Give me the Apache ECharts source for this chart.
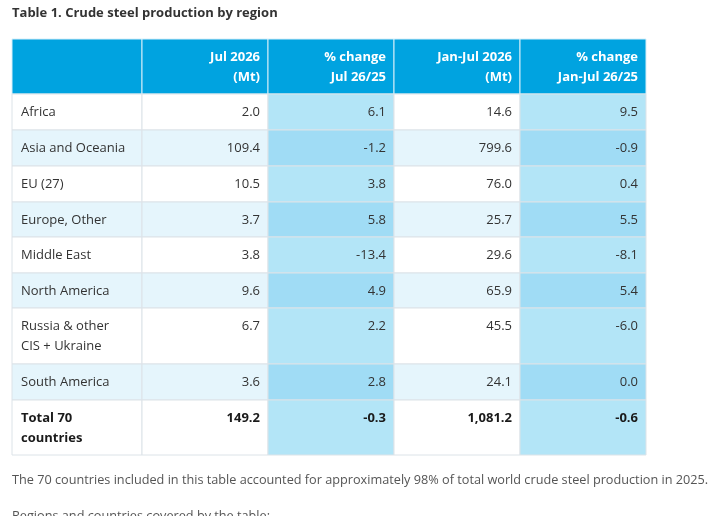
<!DOCTYPE html>
<html lang="en">
    <head>
        <meta charset="utf-8">
        <title>Crude steel production by region</title>
        <script src="https://cdn.jsdelivr.net/npm/echarts@6.0.0/dist/echarts.min.js"></script>
        <style>
            html, body { margin: 0; padding: 0; background: #fff; }
        </style>
    </head>
    <body>
        <div id="main" style="width: 721px;height: 516px;"></div>

        <script type="text/javascript">

            // table data
            let headers = ['', 'Jul 2026\n(Mt)', '% change\nJul 26/25', 'Jan-Jul 2026\n(Mt)', '% change\nJan-Jul 26/25'];
            let regions = ['Africa', 'Asia and Oceania', 'EU (27)', 'Europe, Other', 'Middle East',
                'North America', 'Russia & other\nCIS + Ukraine', 'South America', 'Total 70\ncountries'];
            let julMt = [2.0, 109.4, 10.5, 3.7, 3.8, 9.6, 6.7, 3.6, 149.2];
            let julChange = [6.1, -1.2, 3.8, 5.8, -13.4, 4.9, 2.2, 2.8, -0.3];
            let ytdMt = [14.6, 799.6, 76.0, 25.7, 29.6, 65.9, 45.5, 24.1, 1081.2];
            let ytdChange = [9.5, -0.9, 0.4, 5.5, -8.1, 5.4, -6.0, 0.0, -0.6];

            // layout (axis units = px)
            let colWidths = [130, 126, 126, 126, 126];
            let rowHeights = [55, 36, 36, 36, 35, 36, 35, 56, 36, 55];

            let colEdges = [0];
            colWidths.forEach(w => colEdges.push(colEdges[colEdges.length - 1] + w));
            let rowEdges = [0];
            rowHeights.forEach(h => rowEdges.push(rowEdges[rowEdges.length - 1] + h));

            let fmt = v => v.toLocaleString('en-US', {minimumFractionDigits: 1, maximumFractionDigits: 1});

            let columns = [regions, julMt, julChange, ytdMt, ytdChange];
            let cells = [];
            headers.forEach((h, c) => cells.push({value: [c, 0], text: h}));
            regions.forEach((r, i) => {
                columns.forEach((col, c) => {
                    cells.push({value: [c, i + 1], text: c === 0 ? col[i] : fmt(col[i])});
                });
            });

            let lastRow = regions.length;

            function cellFill(c, r) {
                if (r === 0) return '#00a3e0';
                let shaded = r % 2 === 0;
                if (c === 2 || c === 4) return shaded ? '#a0dcf5' : '#b3e5f7';
                return shaded ? '#e5f5fc' : '#ffffff';
            }

            function renderCell(params, api) {
                let c = api.value(0);
                let r = api.value(1);
                let p0 = api.coord([colEdges[c], rowEdges[r]]);
                let p1 = api.coord([colEdges[c + 1], rowEdges[r + 1]]);
                let item = cells[params.dataIndex];
                let isHead = r === 0;
                let isTotal = r === lastRow;
                let left = c === 0;
                return {
                    type: 'group',
                    children: [{
                        type: 'rect',
                        shape: {x: p0[0], y: p0[1], width: p1[0] - p0[0], height: p1[1] - p0[1]},
                        style: {
                            fill: cellFill(c, r),
                            stroke: isHead ? '#d6eef9' : '#dce3e8',
                            lineWidth: 1
                        }
                    }, {
                        type: 'text',
                        style: {
                            text: item.text,
                            x: left ? p0[0] + 9 : p1[0] - 8,
                            y: p0[1] + 8,
                            align: left ? 'left' : 'right',
                            verticalAlign: 'top',
                            fontFamily: 'Open Sans',
                            fontSize: 13,
                            lineHeight: 20,
                            fontWeight: (isHead || isTotal) ? 'bold' : 'normal',
                            fill: isHead ? '#ffffff' : (isTotal ? '#1a1a1a' : '#333333')
                        }
                    }]
                };
            }

            let myChart = echarts.init(document.getElementById('main'));

            let options = {
                animation: false,
                title: [{
                    text: 'Table 1. Crude steel production by region',
                    left: 12, top: 4, padding: 0,
                    textStyle: {fontFamily: 'Open Sans', fontSize: 13, fontWeight: 'bold', color: '#333333', lineHeight: 18}
                }, {
                    text: 'The 70 countries included in this table accounted for approximately 98% of total world crude steel production in 2025.',
                    left: 12, top: 471, padding: 0,
                    textStyle: {fontFamily: 'Open Sans', fontSize: 12.7, fontWeight: 'normal', color: '#555555', lineHeight: 18}
                }, {
                    text: 'Regions and countries covered by the table:',
                    left: 12, top: 507, padding: 0,
                    textStyle: {fontFamily: 'Open Sans', fontSize: 12.7, fontWeight: 'normal', color: '#555555', lineHeight: 18}
                }],
                grid: {left: 12, top: 39, width: colEdges[colEdges.length - 1], height: rowEdges[rowEdges.length - 1]},
                xAxis: {type: 'value', min: 0, max: colEdges[colEdges.length - 1], show: false},
                yAxis: {type: 'value', min: 0, max: rowEdges[rowEdges.length - 1], inverse: true, show: false},
                series: [{
                    type: 'custom',
                    silent: true,
                    renderItem: renderCell,
                    data: cells
                }]
            };

            myChart.setOption(options);

        </script>
    </body>
</html>
